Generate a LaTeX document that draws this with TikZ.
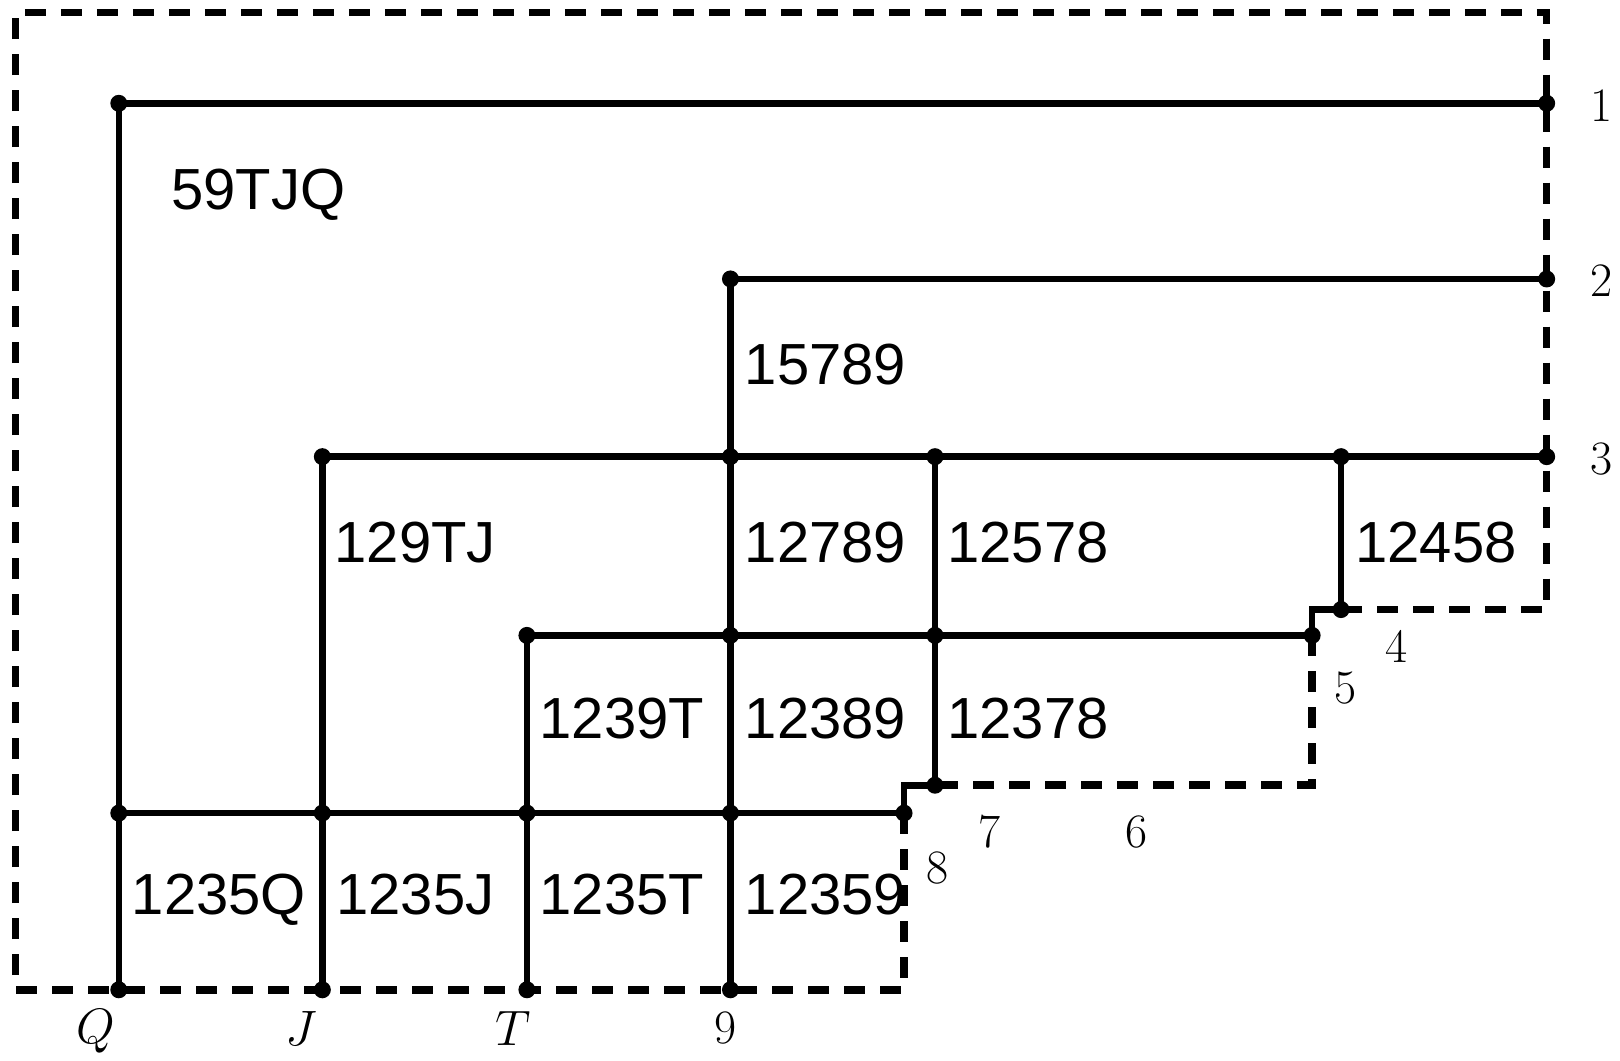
\documentclass[tikz,border=0pt]{standalone}
\usepackage{fontspec}
\newfontfamily\cellfont{Liberation Sans}
\tikzset{every picture/.style={line width=0.75pt}}
\tikzset{
  wire/.style={line width=3.3pt},
  fence/.style={line width=3.8pt, dash pattern=on 10.5pt off 7.5pt},
  cell/.style={font=\cellfont\fontsize{29}{34}\selectfont, inner sep=0pt, text height=20.8pt, text depth=0pt},
  tag/.style={font=\fontsize{24}{28}\selectfont, inner sep=0pt},
  dot/.style={circle, fill, inner sep=0pt, minimum size=8.5pt}
}
\begin{document}
\begin{tikzpicture}[x=0.5166pt,y=0.5166pt,yscale=-1,xscale=1]
\useasboundingbox (0,0) rectangle (1568,1026);

%Shape: points of the grid
\coordinate (q1) at (115,100); \coordinate (q8) at (115,787); \coordinate (q0) at (115,958);
\coordinate (j3) at (312,442); \coordinate (j8) at (312,787); \coordinate (j0) at (312,958);
\coordinate (t5) at (510,615); \coordinate (t8) at (510,787); \coordinate (t0) at (510,958);
\coordinate (n2) at (707,270); \coordinate (n3) at (707,442); \coordinate (n5) at (707,615);
\coordinate (n8) at (707,787); \coordinate (n0) at (707,958);
\coordinate (s3) at (905,442); \coordinate (s5) at (905,615); \coordinate (s7) at (905,760);
\coordinate (f3) at (1298,442); \coordinate (f4) at (1298,590);
\coordinate (e1) at (1497,100); \coordinate (e2) at (1497,270); \coordinate (e3) at (1497,442);
\coordinate (e5) at (1270,615); \coordinate (e8) at (875,787);

%Shape: corners of the dashed border
\coordinate (bl) at (15,958); \coordinate (tl) at (15,12); \coordinate (tr) at (1497,12);
\coordinate (br) at (875,958); \coordinate (c4) at (1497,590); \coordinate (c6) at (1270,760);

%Shape: dashed border
\draw [fence] (e8) -- (br) -- (bl) -- (tl) -- (tr) -- (c4) -- (f4);
\draw [fence] (e5) -- (c6) -- (s7);

%Shape: horizontal lines
\draw [wire] (q1) -- (e1);
\draw [wire] (n2) -- (e2);
\draw [wire] (j3) -- (e3);
\draw [wire] (t5) -- (e5);
\draw [wire] (q8) -- (e8);
%Shape: vertical lines
\draw [wire] (q1) -- (q0);
\draw [wire] (j3) -- (j0);
\draw [wire] (t5) -- (t0);
\draw [wire] (n2) -- (n0);
\draw [wire] (s3) -- (s7);
\draw [wire] (f3) -- (f4);
%Shape: small steps
\draw [wire] (f4) -| (e5);
\draw [wire] (s7) -| (e8);

%Shape: dots
\foreach \p in {q1,q8,q0,j3,j8,j0,t5,t8,t0,n2,n3,n5,n8,n0,s3,s5,s7,f3,f4,e1,e2,e3,e5,e8}
  \node [dot] at (\p) {};

%Shape: cell texts
\node [cell] (c59TJQ) at (250,183) {59TJQ};
\node [cell] (c15789) at (799,352) {15789};
\node [cell] (c129TJ) at (402,524) {129TJ};
\node [cell] (c12789) at (799,524) {12789};
\node [cell] (c12578) at (995,524) {12578};
\node [cell] (c12458) at (1390,524) {12458};
\node [cell] (c1239T) at (602,695) {1239T};
\node [cell] (c12389) at (799,695) {12389};
\node [cell] (c12378) at (995,695) {12378};
\node [cell] (c1235Q) at (212,865) {1235Q};
\node [cell] (c1235J) at (402,865) {1235J};
\node [cell] (c1235T) at (602,865) {1235T};
\node [cell] (c12359) at (799,865) {12359};

%Shape: edge tags
\node [tag] (tag1) at (1550,102) {1};
\node [tag] (tag2) at (1550,272) {2};
\node [tag] (tag3) at (1550,444) {3};
\node [tag] (tag4) at (1352,626) {4};
\node [tag] (tag5) at (1302,666) {5};
\node [tag] (tag6) at (1100,805) {6};
\node [tag] (tag7) at (958,805) {7};
\node [tag] (tag8) at (907,840) {8};
\node [tag] (tagQ) at (93,998) {$Q$};
\node [tag] (tagJ) at (292,995) {$J$};
\node [tag] (tagT) at (497,995) {$T$};
\node [tag] (tag9) at (702,995) {9};

\end{tikzpicture}
\end{document}
